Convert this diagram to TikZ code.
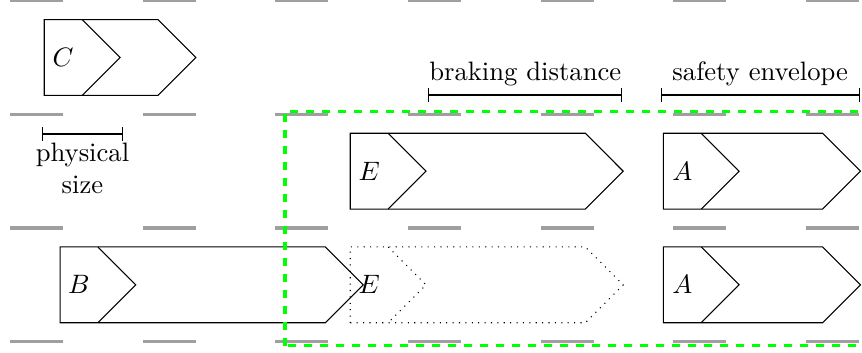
\documentclass[tikz,border=0pt]{standalone}
\usepackage{amsmath, amssymb}
\usepackage{tikz}
\usetikzlibrary{positioning, calc}

\begin{document}
\begin{tikzpicture}[
    lane/.style={line width=1.2pt, gray!75},
    vehicle/.style={draw, thin},
    ghost/.style={draw, dotted},
    envelope/.style={green, dashed, very thick},
    dimline/.style={|-|, thin}
    ]
    \useasboundingbox (0,-0.136) rectangle (11.372,4.508);

    % Lane markings
    \foreach \y in {0, 1.5, 3, 4.5}
      \foreach \k in {0,...,6}
        \draw[lane] (0.132+1.75*\k,\y) -- ++(0.7,0);

    % Vehicles (rear corner, lane centre, envelope length, label)
    \foreach \name/\x/\y/\len/\lab in {c/0.584/3.75/2.0/C, e/4.621/2.25/3.6/E,
        a/8.751/2.25/2.6/A, b/0.792/0.75/4.0/B, a2/8.751/0.75/2.6/A}{
      \coordinate (\name) at (\x,\y);
      \draw[vehicle] ($(\name)+(0,-0.5)$) -- ++({\len-0.5},0) -- ++(0.5,0.5)
          -- ++(-0.5,0.5) -- ++({0.5-\len},0) -- cycle;
      \draw[vehicle] ($(\name)+(0.5,0.5)$) -- ++(0.5,-0.5) -- ++(-0.5,-0.5);
      \node (\name-lbl) at ($(\name)+(0.25,0)$) {$\lab$};
    }

    % Ego vehicle, future position
    \coordinate (e2) at (4.621,0.75);
    \draw[ghost] ($(e2)+(0,-0.5)$) -- ++(3.1,0) -- ++(0.5,0.5)
        -- ++(-0.5,0.5) -- ++(-3.1,0) -- cycle;
    \draw[ghost] ($(e2)+(0.5,0.5)$) -- ++(0.5,-0.5) -- ++(-0.5,-0.5);
    \node (e2-lbl) at ($(e2)+(0.25,0)$) {$E$};

    % Dimensions
    \coordinate (phys-l) at (0.550,2.74);
    \coordinate (phys-r) at (1.627,2.74);
    \coordinate (brake-l) at (5.650,3.255);
    \coordinate (brake-r) at (8.210,3.255);
    \coordinate (safe-l) at (8.716,3.255);
    \coordinate (safe-r) at (11.342,3.255);
    \draw[dimline] (phys-l) -- node[below, align=center] (phys-lbl) {physical\\size} (phys-r);
    \draw[dimline] (brake-l) -- node[above] (brake-lbl) {braking distance} (brake-r);
    \draw[dimline] (safe-l) -- node[above] (safe-lbl) {safety envelope} (safe-r);

    % Region of interest
    \draw[envelope] (3.76,-0.055) rectangle (11.6,3.04);
\end{tikzpicture}
\end{document}
